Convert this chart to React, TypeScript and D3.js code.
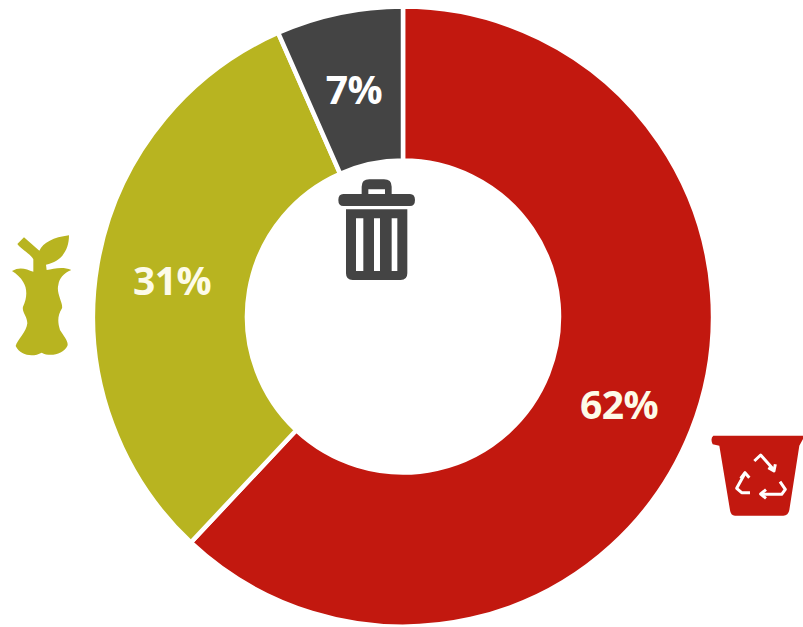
import React from "react";
import * as d3 from "d3";

const categories = ["recycled", "organic", "residual"];
const values = [62, 31.4, 6.6];
const labels = ["62%", "31%", "7%"];
const colors = ["#c2180f", "#b8b420", "#444444"];
const labelPos: [number, number][] = [[619, 405], [172, 281], [354, 90]];

const W = 803, H = 627, cx = 403, cy = 316.5, R = 310, r = 156;

export default function App() {
  const pie = d3.pie<number>().sort(null)(values);
  const arc = d3.arc<d3.PieArcDatum<number>>().innerRadius(r).outerRadius(R);
  return (
    <svg width={W} height={H} style={{ position: "absolute", left: 0, top: 0, background: "#fff" }}>
      <g transform={`translate(${cx},${cy})`}>
        {pie.map((d, i) => (
          <path key={categories[i]} d={arc(d) ?? ""} fill={colors[i]} stroke="#fff" strokeWidth={4.5} />
        ))}
      </g>
      {labels.map((t, i) => (
        <text key={t} x={labelPos[i][0]} y={labelPos[i][1]} dy="0.36em" textAnchor="middle"
          fontFamily="'Open Sans', sans-serif" fontWeight={700} fontSize={39} letterSpacing={-0.5}
          fill={i === 2 ? "#fff" : "#fdfbe8"}>{t}</text>
      ))}
      {/* apple core */}
      <g transform="translate(0,220) scale(0.3333)" fill="#b8b420">
        <path d="M52,72 L72,52 L118,92 C130,68 160,52 207,46 C207,90 185,125 138,134 L140,150 C160,148 185,138 214,150 C190,160 178,175 175,195 C168,220 190,250 186,265 C173,285 172,305 180,330 C192,350 207,365 202,378 C190,403 150,412 125,398 C100,412 62,408 47,378 C52,360 80,335 82,310 C82,290 65,275 69,260 C82,235 82,205 70,187 C62,172 50,162 36,153 C60,138 80,148 100,155 L100,118 C90,100 68,92 52,72 Z" />
      </g>
      {/* residual bin */}
      <g transform="translate(330,170) scale(0.3333)" fill="#444444">
        <path fillRule="evenodd" d="M95,72 L95,50 Q95,28 118,28 L162,28 Q185,28 185,50 L185,72 L240,72 Q255,72 255,90 Q255,108 240,108 L40,108 Q25,108 25,90 Q25,72 40,72 Z M115,72 L165,72 L165,58 L115,58 Z" />
        <path fillRule="evenodd" d="M48,118 L232,118 L232,310 Q232,330 212,330 L68,330 Q48,330 48,310 Z M78,145 L78,303 L100,303 L100,145 Z M132,145 L132,303 L150,303 L150,145 Z M185,145 L185,303 L202,303 L202,145 Z" />
      </g>
      {/* recycling bin */}
      <g transform="translate(700,425) scale(0.3333)">
        <path fill="#c2180f" d="M40,32 L309,32 L309,42 L298,62 L268,255 Q265,272 250,272 L105,272 Q92,272 90,255 L58,62 L38,58 Q30,40 40,32 Z" />
        <g fill="none" stroke="#fff" strokeWidth={9} strokeLinejoin="round">
          <path d="M163,108 L182,90 L222,135" />
          <path d="M205,128 L222,138 L226,118" />
          <path d="M135,145 L110,190 L125,203 L150,203" />
          <path d="M122,160 L135,143 L148,158" />
          <path d="M240,170 L256,193 L245,208 L185,208" />
          <path d="M198,194 L182,207 L198,220" />
        </g>
      </g>
    </svg>
  );
}
